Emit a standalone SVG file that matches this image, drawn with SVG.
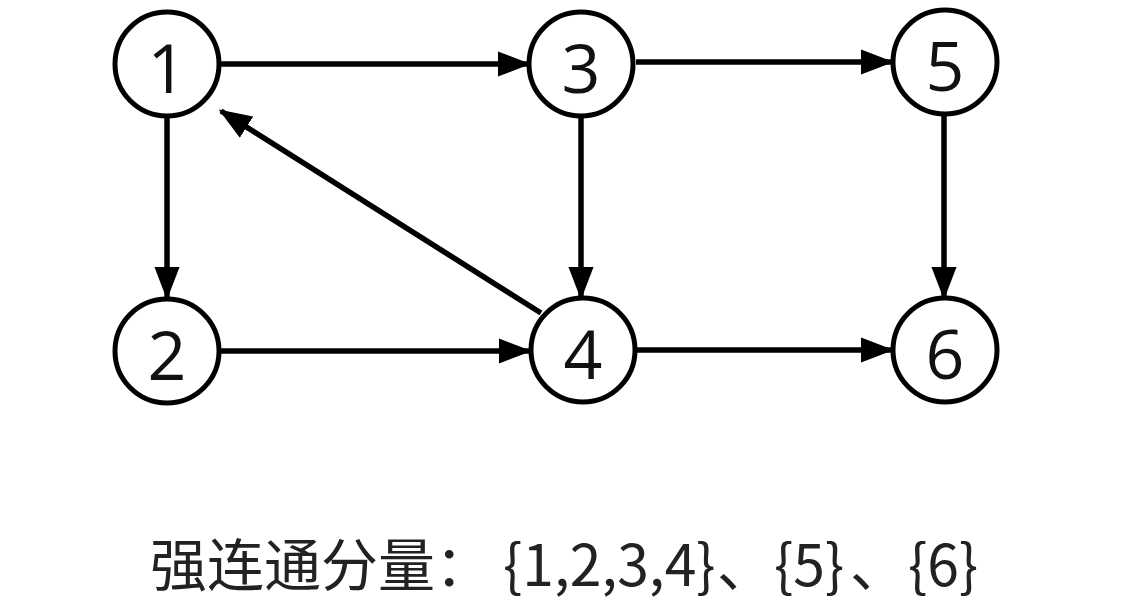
<svg xmlns="http://www.w3.org/2000/svg" width="1131" height="615" viewBox="0 0 1131 615">
<style>
.node circle{fill:#fff;stroke:#000;stroke-width:5}
.node text{font-family:"Open Sans","Noto Sans",sans-serif;font-size:68px;fill:#111;text-anchor:middle;dominant-baseline:central}
.edge{stroke:#000;stroke-width:5.5;fill:none;marker-end:url(#arr)}
.cap{font-family:"Noto Sans CJK SC","Noto Sans",sans-serif;font-size:57px;fill:#222}
</style>
<defs>
<marker id="arr" markerWidth="6" markerHeight="4.6" refX="5.5" refY="2.3" orient="auto" markerUnits="strokeWidth">
<path d="M0,0 L6,2.3 L0,4.6 z" fill="#000"/>
</marker>
</defs>
<rect width="1131" height="615" fill="#fff"/>
<g id="edges">
<line class="edge" x1="220" y1="64" x2="528" y2="64"/>
<line class="edge" x1="636" y1="62" x2="891" y2="62"/>
<line class="edge" x1="167" y1="118" x2="167" y2="297"/>
<line class="edge" x1="581" y1="118" x2="581" y2="297"/>
<line class="edge" x1="944" y1="116" x2="944" y2="297"/>
<line class="edge" x1="220" y1="351" x2="529" y2="351"/>
<line class="edge" x1="636" y1="350" x2="891" y2="350"/>
<line class="edge" x1="541" y1="313" x2="221" y2="111"/>
</g>
<g id="n1" class="node"><circle cx="167" cy="64" r="52"/><text x="167" y="66">1</text></g>
<g id="n3" class="node"><circle cx="581" cy="64" r="52"/><text x="581" y="66">3</text></g>
<g id="n5" class="node"><circle cx="945" cy="62" r="52"/><text x="945" y="64">5</text></g>
<g id="n2" class="node"><circle cx="167" cy="351" r="52"/><text x="167" y="353">2</text></g>
<g id="n4" class="node"><circle cx="583" cy="350" r="52"/><text x="583" y="352">4</text></g>
<g id="n6" class="node"><circle cx="945" cy="350" r="52"/><text x="945" y="352">6</text></g>
<text class="cap" y="586"><tspan x="150">强连通分量：</tspan><tspan x="503">{1,2,3,4}</tspan><tspan x="717">、</tspan><tspan x="774">{5}</tspan><tspan x="850">、</tspan><tspan x="908">{6}</tspan></text>
</svg>
